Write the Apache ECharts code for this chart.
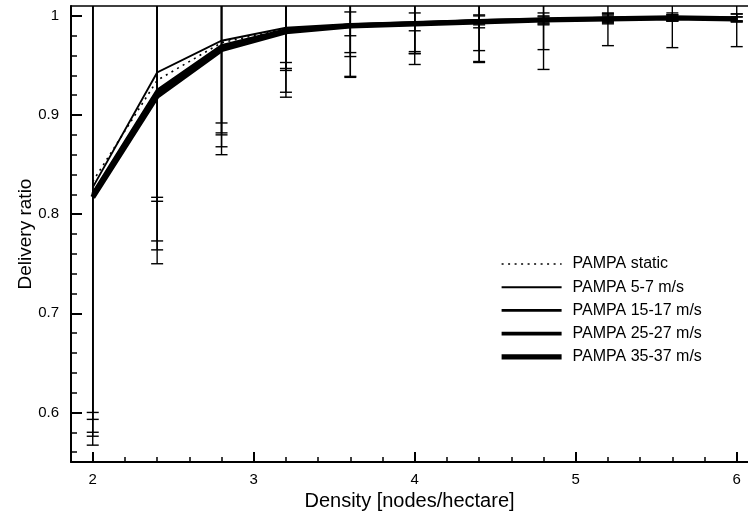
<!DOCTYPE html>
<html><head><meta charset="utf-8">
<script src="https://cdn.jsdelivr.net/npm/echarts@6/dist/echarts.min.js"></script>
<style>html,body{margin:0;padding:0;background:#fff}#c{width:748px;height:516px}</style>
</head><body><div id="c"></div><script>
// ---- data ----
const density = [2, 2.4, 2.8, 3.2, 3.6, 4.0, 4.4, 4.8, 5.2, 5.6, 6.0];
const seriesNames = ['PAMPA static', 'PAMPA 5-7 m/s', 'PAMPA 15-17 m/s', 'PAMPA 25-27 m/s', 'PAMPA 35-37 m/s'];
const meanStatic = [0.833, 0.935, 0.973, 0.987, 0.991, 0.993, 0.995, 0.997, 0.998, 0.998, 0.998];
const mean5  = [0.827, 0.943, 0.975, 0.988, 0.992, 0.994, 0.996, 0.997, 0.998, 0.999, 0.998];
const mean15 = [0.821, 0.925, 0.970, 0.986, 0.991, 0.993, 0.995, 0.996, 0.998, 0.998, 0.998];
const mean25 = [0.819, 0.922, 0.968, 0.985, 0.990, 0.992, 0.995, 0.996, 0.997, 0.998, 0.997];
const mean35 = [0.817, 0.919, 0.966, 0.984, 0.990, 0.992, 0.994, 0.996, 0.997, 0.998, 0.997];
const errStatic = [0.253, 0.162, 0.093, 0.042, 0.032, 0.031, 0.030, 0.031, 0.028, 0.030, 0.029];
const err5  = [0.227, 0.126, 0.083, 0.035, 0.012, 0.009, 0.005, 0.006, 0.005, 0.004, 0.004];
const err15 = [0.228, 0.112, 0.088, 0.039, 0.028, 0.029, 0.041, 0.050, 0.004, 0.003, 0.004];
const err25 = [0.243, 0.158, 0.100, 0.062, 0.051, 0.041, 0.042, 0.004, 0.003, 0.003, 0.002];
const err35 = [0.250, 0.169, 0.106, 0.066, 0.052, 0.030, 0.006, 0.003, 0.005, 0.003, 0.002];
const xMajorTicks = [2, 3, 4, 5, 6];
const yMajorTicks = [0.6, 0.7, 0.8, 0.9, 1];
const xTitle = 'Density [nodes/hectare]';
const yTitle = 'Delivery ratio';

// ---- build ----
const xMin = 1.865, xMax = 6.07, yMin = 0.55, yMax = 1.01;
const xMinorTicks = [];
for (let k = 10; k <= 30; k++) { if (k % 5 !== 0) xMinorTicks.push(+(k * 0.2).toFixed(2)); }
const yMinorTicks = [];
for (let k = 28; k <= 50; k++) { if (k % 5 !== 0) yMinorTicks.push(+(k * 0.02).toFixed(2)); }

const means = [meanStatic, mean5, mean15, mean25, mean35];
const errs = [errStatic, err5, err15, err25, err35];
const widths = [1.6, 1.9, 2.9, 3.9, 5.2];
const types = [[2, 4.5], 'solid', 'solid', 'solid', 'solid'];
const FONT = '"Liberation Sans", Arial, Helvetica, sans-serif';

const series = [];
means.forEach((m, si) => {
  series.push({
    type: 'custom', name: seriesNames[si] + ' error', clip: true, silent: true, z: 1,
    xAxisIndex: 0, yAxisIndex: 0,
    encode: { x: 0, y: [1, 2] },
    data: density.map((d, i) => [d, m[i] - errs[si][i], m[i] + errs[si][i]]),
    renderItem(params, api) {
      const x = api.value(0);
      const lo = api.coord([x, api.value(1)]);
      const hi = api.coord([x, api.value(2)]);
      const w = 6, st = { stroke: '#000', lineWidth: 1.4 };
      return { type: 'group', children: [
        { type: 'line', shape: { x1: lo[0], y1: lo[1], x2: hi[0], y2: hi[1] }, style: st },
        { type: 'line', shape: { x1: lo[0] - w, y1: lo[1], x2: lo[0] + w, y2: lo[1] }, style: st },
        { type: 'line', shape: { x1: hi[0] - w, y1: hi[1], x2: hi[0] + w, y2: hi[1] }, style: st }
      ]};
    }
  });
});
means.forEach((m, si) => {
  series.push({
    type: 'line', name: seriesNames[si], xAxisIndex: 0, yAxisIndex: 0, z: 3,
    symbol: 'none', silent: true, animation: false,
    lineStyle: { color: '#000', width: widths[si], type: types[si], cap: 'butt', join: 'miter' },
    itemStyle: { color: '#000' },
    data: density.map((d, i) => [d, m[i]])
  });
});

const axisLabelStyle = { color: '#000', fontSize: 15, fontFamily: FONT };
const option = {
  animation: false,
  backgroundColor: '#fff',
  grid: { left: 71, right: 0, top: 6, bottom: 54, containLabel: false, outerBoundsMode: 'none' },
  legend: {
    data: seriesNames, orient: 'vertical', left: 494, top: 251,
    itemWidth: 60, itemHeight: 16, itemGap: 7.2, selectedMode: false,
    itemStyle: { color: 'rgba(0,0,0,0)', borderWidth: 0, opacity: 0 },
    lineStyle: { width: 'inherit', type: 'inherit', color: '#000', cap: 'butt' },
    textStyle: { color: '#000', fontSize: 16, lineHeight: 16, fontFamily: FONT, padding: [0, 0, 0, 6] }
  },
  xAxis: [
    { type: 'value', min: xMin, max: xMax, position: 'bottom',
      axisLine: { lineStyle: { color: '#000', width: 2 } },
      axisTick: { inside: true, length: 10, customValues: xMajorTicks, lineStyle: { color: '#000', width: 2 } },
      axisLabel: { customValues: xMajorTicks, margin: 10, ...axisLabelStyle },
      splitLine: { show: false },
      name: xTitle, nameLocation: 'middle', nameGap: 29, nameMoveOverlap: false,
      nameTextStyle: { color: '#000', fontSize: 20, fontFamily: FONT } },
    { type: 'value', min: xMin, max: xMax, position: 'bottom',
      axisLine: { show: false },
      axisTick: { inside: true, length: 5, customValues: xMinorTicks, lineStyle: { color: '#000', width: 1.5 } },
      axisLabel: { show: false }, splitLine: { show: false } },
    { type: 'value', min: xMin, max: xMax, position: 'top',
      axisLine: { lineStyle: { color: '#000', width: 1.5 } },
      axisTick: { show: false }, axisLabel: { show: false }, splitLine: { show: false } }
  ],
  yAxis: [
    { type: 'value', min: yMin, max: yMax, position: 'left',
      axisLine: { lineStyle: { color: '#000', width: 2 } },
      axisTick: { inside: true, length: 11, customValues: yMajorTicks, lineStyle: { color: '#000', width: 2 } },
      axisLabel: { customValues: yMajorTicks, margin: 12, ...axisLabelStyle },
      splitLine: { show: false },
      name: yTitle, nameLocation: 'middle', nameGap: 36, nameMoveOverlap: false,
      nameTextStyle: { color: '#000', fontSize: 19, fontFamily: FONT } },
    { type: 'value', min: yMin, max: yMax, position: 'left',
      axisLine: { show: false },
      axisTick: { inside: true, length: 6, customValues: yMinorTicks, lineStyle: { color: '#000', width: 1.5 } },
      axisLabel: { show: false }, splitLine: { show: false } }
  ],
  series
};
const chart = echarts.init(document.getElementById('c'), null, { renderer: 'canvas' });
chart.setOption(option);
</script></body></html>
